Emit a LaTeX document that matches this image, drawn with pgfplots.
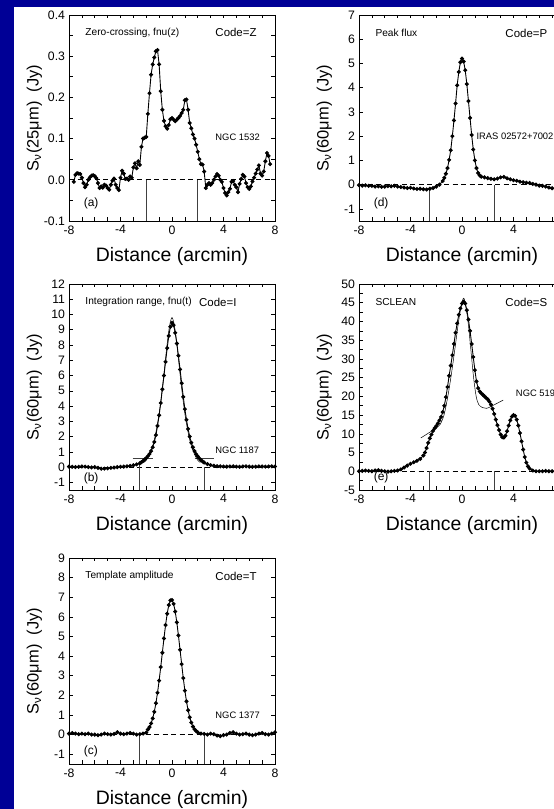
\documentclass[border=0pt]{standalone}
\usepackage{fontspec}
\setmainfont{Liberation Sans}
\usepackage{pgfplots}
\pgfplotsset{compat=1.18}
\definecolor{bgblue}{RGB}{0,0,150}

\pgfplotsset{
 panel/.style={
  scale only axis, width=206bp, height=206bp,
  xmin=-8, xmax=8,
  xtick={-8,-4,0,4,8},
  minor xtick={-7,-6,-5,-3,-2,-1,1,2,3,5,6,7},
  tick align=inside,
  major tick length=3.5bp, minor tick length=3.5bp,
  every tick/.style={black, line width=0.6bp},
  axis line style={black, line width=0.9bp},
  tick label style={font=\fontsize{12.3}{14}\selectfont},
  xticklabel style={yshift=-1bp},
  yticklabel style={xshift=-0.5bp},
  /pgf/number format/assume math mode=true,
  xlabel={Distance (arcmin)},
  every axis x label/.style={at={(axis description cs:0.5,-0.172)}, anchor=center, font=\fontsize{19.5}{22}\selectfont},
  every axis y label/.style={at={(axis description cs:-0.168,0.5)}, anchor=center, rotate=90, font=\fontsize{16.5}{19}\selectfont},
 },
 dat/.style={black, line width=0.9bp, mark=*, mark size=1.55bp, mark options={solid, fill=black}},
 fitl/.style={black, line width=0.5bp, no marks, smooth},
 zl/.style={black, line width=0.7bp, dash pattern=on 5bp off 3.5bp, no marks},
 vl/.style={black!75, line width=0.7bp, no marks},
}
\newcommand{\ttl}{\fontsize{10.2}{12}\selectfont}
\newcommand{\cod}{\fontsize{11.5}{13}\selectfont}
\newcommand{\ngc}{\fontsize{9.4}{11}\selectfont}
\newcommand{\lbl}{\fontsize{12}{14}\selectfont}

\begin{document}
\begin{tikzpicture}[x=1bp,y=1bp]
\path[use as bounding box] (0,0) rectangle (554,809);
\clip (0,0) rectangle (554,809);
\fill[bgblue] (0,0) rectangle (554,809);
\fill[white] (14,0) rectangle (554,802);

% ---------------- (a)
\begin{axis}[panel, at={(69bp,588bp)}, anchor=south west,
  ymin=-0.1, ymax=0.4, ytick={-0.1,0,0.1,0.2,0.3,0.4},
  minor ytick={-0.05,0.05,0.15,0.25,0.35},
  yticklabel style={/pgf/number format/.cd, fixed, fixed zerofill, precision=1},
  ylabel={S\textsubscript{ν}(25μm)\hspace{0.55em}(Jy)}]
\addplot[zl] coordinates {(-8,0) (8,0)};
\addplot[vl] coordinates {(-2,-0.1) (-2,0)};
\addplot[vl] coordinates {(2,-0.1) (2,0)};
\addplot[dat] coordinates {
(-7.625,-0.005) (-7.5,0.012) (-7.375,0.016) (-7.25,0.015) (-7.125,0.014) (-7.0,0.005)
(-6.875,-0.008) (-6.75,-0.018) (-6.625,-0.012) (-6.5,0.0) (-6.375,0.006) (-6.25,0.01)
(-6.125,0.011) (-6.0,0.009) (-5.875,0.004) (-5.75,-0.008) (-5.625,-0.02) (-5.5,-0.016)
(-5.375,-0.019) (-5.25,-0.012) (-5.125,-0.014) (-5.0,-0.02) (-4.875,-0.024) (-4.75,-0.012)
(-4.625,-0.002) (-4.5,0.003) (-4.375,-0.012) (-4.25,-0.02) (-4.125,-0.025) (-4.0,0.005)
(-3.875,0.022) (-3.75,0.015) (-3.625,0.002) (-3.5,0.003) (-3.375,0.0) (-3.25,0.008)
(-3.125,0.005) (-3.0,0.03) (-2.875,0.04) (-2.75,0.028) (-2.625,0.045) (-2.5,0.036)
(-2.375,0.08) (-2.25,0.1) (-2.125,0.102) (-2.0,0.104) (-1.875,0.16) (-1.75,0.21)
(-1.625,0.255) (-1.5,0.28) (-1.375,0.297) (-1.25,0.312) (-1.125,0.315) (-1.0,0.28)
(-0.875,0.215) (-0.75,0.17) (-0.625,0.143) (-0.5,0.13) (-0.375,0.124) (-0.25,0.133)
(-0.125,0.147) (0.0,0.15) (0.125,0.146) (0.25,0.142) (0.375,0.146) (0.5,0.15)
(0.625,0.155) (0.75,0.162) (0.875,0.17) (1.0,0.193) (1.125,0.195) (1.25,0.17)
(1.375,0.138) (1.5,0.125) (1.625,0.11) (1.75,0.1) (1.875,0.085) (2.0,0.068)
(2.125,0.05) (2.25,0.038) (2.375,0.037) (2.5,0.02) (2.625,-0.02) (2.75,-0.012)
(2.875,-0.008) (3.0,-0.012) (3.125,-0.008) (3.25,0.0) (3.375,0.008) (3.5,0.014)
(3.625,0.01) (3.75,0.0) (3.875,-0.005) (4.0,-0.02) (4.125,-0.032) (4.25,-0.038)
(4.375,-0.03) (4.5,-0.022) (4.625,-0.005) (4.75,-0.003) (4.875,-0.012) (5.0,-0.018)
(5.125,-0.03) (5.25,-0.01) (5.375,0.002) (5.5,0.012) (5.625,0.008) (5.75,-0.008)
(5.875,-0.018) (6.0,-0.022) (6.125,-0.016) (6.25,-0.004) (6.375,0.005) (6.5,0.015)
(6.625,0.025) (6.75,0.035) (6.875,0.015) (7.0,0.01) (7.125,0.02) (7.25,0.045)
(7.375,0.065) (7.5,0.058) (7.625,0.038)};
\node[anchor=west, font=\ttl] at (axis description cs:0.063,0.913) {Zero-crossing, fnu(z)};
\node[anchor=west, font=\cod] at (axis description cs:0.694,0.913) {Code=Z};
\node[anchor=west, font=\ngc] at (axis description cs:0.694,0.408) {NGC 1532};
\node[anchor=west, font=\lbl] at (axis description cs:0.055,0.085) {(a)};
\end{axis}

% ---------------- (d)
\begin{axis}[panel, at={(359bp,588bp)}, anchor=south west,
  ymin=-1.5, ymax=7, ytick={-1,0,...,7},
  ylabel={S\textsubscript{ν}(60μm)\hspace{0.55em}(Jy)}]
\addplot[zl] coordinates {(-8,0) (8,0)};
\addplot[vl] coordinates {(-2.5,-1.5) (-2.5,-0.17)};
\addplot[vl] coordinates {(2.5,-1.5) (2.5,0)};
\addplot[dat] coordinates {
(-8,-0.02) (-7.75,-0.04) (-7.5,-0.03) (-7.25,-0.05) (-7,-0.05) (-6.75,-0.08) (-6.5,-0.07)
(-6.25,-0.09) (-6,-0.08) (-5.75,-0.06) (-5.5,-0.07) (-5.25,-0.05) (-5,-0.08) (-4.75,-0.1)
(-4.5,-0.12) (-4.25,-0.14) (-4,-0.13) (-3.75,-0.16) (-3.5,-0.18) (-3.25,-0.17) (-3,-0.19)
(-2.75,-0.2) (-2.5,-0.17) (-2.25,-0.14) (-2,-0.08) (-1.75,0.0) (-1.5,0.15)
(-1.375,0.28) (-1.25,0.45) (-1.125,0.68) (-1.0,1.02) (-0.875,1.42) (-0.75,2.0)
(-0.625,2.65) (-0.5,3.35) (-0.375,4.1) (-0.25,4.65) (-0.125,5.05) (0,5.2)
(0.125,5.08) (0.25,4.72) (0.375,4.15) (0.5,3.45) (0.625,2.75) (0.75,2.05)
(0.875,1.45) (1.0,1.0) (1.125,0.68) (1.25,0.48) (1.375,0.38) (1.5,0.33)
(1.75,0.3) (2.0,0.27) (2.25,0.24) (2.5,0.22) (2.75,0.25) (3.0,0.3) (3.25,0.32)
(3.5,0.26) (3.75,0.22) (4.0,0.18) (4.25,0.16) (4.5,0.12) (4.75,0.1) (5.0,0.08)
(5.25,0.07) (5.5,0.03) (5.75,0.0) (6.0,-0.04) (6.25,-0.05) (6.5,-0.08) (6.75,-0.12)
(7.0,-0.15) (7.25,-0.16) (7.5,-0.14) (7.75,-0.12) (8,-0.1)};
\node[anchor=west, font=\ttl] at (axis description cs:0.063,0.913) {Peak flux};
\node[anchor=west, font=\cod] at (axis description cs:0.694,0.913) {Code=P};
\node[anchor=west, font=\ngc, inner sep=1bp] at (axis description cs:0.565,0.41) {IRAS 02572+7002};
\node[anchor=west, font=\lbl] at (axis description cs:0.055,0.085) {(d)};
\end{axis}

% ---------------- (b)
\begin{axis}[panel, at={(69bp,319bp)}, anchor=south west,
  ymin=-1.5, ymax=12, ytick={-1,0,...,12},
  ylabel={S\textsubscript{ν}(60μm)\hspace{0.55em}(Jy)}]
\addplot[zl] coordinates {(-8,0) (8,0)};
\addplot[vl] coordinates {(-2.5,-1.5) (-2.5,0.25)};
\addplot[vl] coordinates {(2.5,-1.5) (2.5,0)};
\addplot[vl] coordinates {(-3.05,0.55) (-1.5,0.55)};
\addplot[vl] coordinates {(1.75,0.55) (3.3,0.55)};
\addplot[fitl] coordinates {(-2.2,0.3) (-2.0,0.45) (-1.8,0.75) (-1.6,1.15) (-1.4,1.7)
(-1.2,2.5) (-1.0,3.5) (-0.8,4.8) (-0.6,6.3) (-0.4,7.9) (-0.2,9.2) (0,9.8) (0.2,9.2)
(0.4,7.9) (0.6,6.3) (0.8,4.8) (1.0,3.5) (1.2,2.5) (1.4,1.7) (1.6,1.15) (1.8,0.75)
(2.0,0.45) (2.2,0.3)};
\addplot[dat] coordinates {
(-8,0.03) (-7.75,0.02) (-7.5,0.0) (-7.25,0.02) (-7,0.04) (-6.75,0.03) (-6.5,0.0)
(-6.25,-0.02) (-6,0.0) (-5.75,-0.05) (-5.5,-0.1) (-5.25,-0.1) (-5,-0.08) (-4.75,-0.05)
(-4.5,-0.03) (-4.25,0.0) (-4,0.02) (-3.75,0.03) (-3.5,0.05) (-3.25,0.08) (-3,0.12)
(-2.75,0.18) (-2.5,0.25) (-2.375,0.32) (-2.25,0.4) (-2.125,0.5) (-2.0,0.6)
(-1.875,0.72) (-1.75,0.86) (-1.625,1.05) (-1.5,1.3) (-1.375,1.65) (-1.25,2.1)
(-1.125,2.7) (-1.0,3.4) (-0.875,4.2) (-0.75,5.1) (-0.625,6.0) (-0.5,6.9) (-0.375,7.8)
(-0.25,8.6) (-0.125,9.2) (0,9.45) (0.125,9.3) (0.25,8.8) (0.375,8.1) (0.5,7.3)
(0.625,6.4) (0.75,5.5) (0.875,4.6) (1.0,3.8) (1.125,3.1) (1.25,2.5) (1.375,2.0)
(1.5,1.6) (1.625,1.3) (1.75,1.05) (1.875,0.85) (2.0,0.7) (2.125,0.57) (2.25,0.46)
(2.375,0.37) (2.5,0.3) (2.75,0.2) (3.0,0.13) (3.25,0.09) (3.5,0.06) (3.75,0.05)
(4,0.04) (4.25,0.03) (4.5,0.04) (4.75,0.05) (5,0.03) (5.25,0.02) (5.5,0.04) (5.75,0.05)
(6,0.03) (6.25,0.02) (6.5,0.03) (6.75,0.05) (7,0.04) (7.25,0.03) (7.5,0.04) (7.75,0.05)
(8,0.04)};
\node[anchor=west, font=\ttl] at (axis description cs:0.063,0.913) {Integration range, fnu(t)};
\node[anchor=west, font=\cod] at (axis description cs:0.615,0.913) {Code=I};
\node[anchor=west, font=\ngc] at (axis description cs:0.694,0.195) {NGC 1187};
\node[anchor=west, font=\lbl] at (axis description cs:0.055,0.055) {(b)};
\end{axis}

% ---------------- (e)
\begin{axis}[panel, at={(359bp,319bp)}, anchor=south west,
  ymin=-5, ymax=50, ytick={-5,0,...,50},
  minor ytick={-2.5,2.5,...,47.5},
  ylabel={S\textsubscript{ν}(60μm)\hspace{0.55em}(Jy)}]
\addplot[zl] coordinates {(-8,0) (8,0)};
\addplot[vl] coordinates {(-2.5,-5) (-2.5,0)};
\addplot[vl] coordinates {(2.5,-5) (2.5,0)};
\addplot[fitl] coordinates {(-3.2,8.9) (-2.6,10.2) (-2.0,11.5) (-1.7,12.5) (-1.4,15)
(-1.1,20) (-0.8,26.5) (-0.5,34) (-0.2,41.5) (0.1,46.2) (0.3,44) (0.5,39) (0.7,32)
(0.9,25) (1.1,20) (1.3,17.8) (1.6,17) (1.9,16.8) (2.2,17.2) (2.7,18.1) (3.2,19)};
\addplot[dat] coordinates {
(-8,0.0) (-7.75,0.1) (-7.5,0.2) (-7.25,0.1) (-7,0.0) (-6.75,0.2) (-6.5,0.3) (-6.25,0.1)
(-6,0.0) (-5.75,-0.1) (-5.5,0.0) (-5.25,0.1) (-5,0.2) (-4.75,0.5) (-4.5,1.0) (-4.25,1.5)
(-4,2.0) (-3.75,2.4) (-3.5,2.8) (-3.25,3.3) (-3.0,4.2) (-2.875,5.0) (-2.75,6.2)
(-2.625,7.6) (-2.5,8.8) (-2.375,9.8) (-2.25,10.8) (-2.125,11.5) (-2.0,12.1)
(-1.875,12.8) (-1.75,13.6) (-1.625,14.5) (-1.5,15.8) (-1.375,17.5) (-1.25,19.8)
(-1.125,22.5) (-1.0,25.5) (-0.875,28.2) (-0.75,31.0) (-0.625,34.0) (-0.5,37.0)
(-0.375,39.5) (-0.25,41.8) (-0.125,43.5) (0,44.8) (0.125,45.3) (0.25,44.8)
(0.375,43.0) (0.5,40.5) (0.625,37.5) (0.75,34.0) (0.875,30.5) (1.0,27.0)
(1.125,24.0) (1.25,22.2) (1.375,21.3) (1.5,20.8) (1.625,20.4) (1.75,20.0)
(1.875,19.6) (2.0,19.2) (2.125,18.6) (2.25,17.8) (2.375,16.7) (2.5,15.3)
(2.625,13.8) (2.75,12.3) (2.875,11.0) (3.0,9.8) (3.125,9.1) (3.25,9.0) (3.375,9.5)
(3.5,10.7) (3.625,12.2) (3.75,13.6) (3.875,14.6) (4.0,15.0) (4.125,14.8) (4.25,13.8)
(4.375,12.2) (4.5,10.2) (4.625,8.0) (4.75,5.8) (4.875,3.8) (5.0,2.3) (5.125,1.3)
(5.25,0.7) (5.5,0.2) (5.75,0.0) (6,0.0) (6.25,0.0) (6.5,0.1) (6.75,0.0) (7,0.0)
(7.25,0.0) (7.5,0.0) (7.75,0.0) (8,0.0)};
\node[anchor=west, font=\ttl] at (axis description cs:0.063,0.913) {SCLEAN};
\node[anchor=west, font=\cod] at (axis description cs:0.694,0.913) {Code=S};
\node[anchor=west, font=\ngc] at (axis description cs:0.745,0.47) {NGC 5194};
\node[anchor=west, font=\lbl] at (axis description cs:0.055,0.06) {(e)};
\end{axis}

% ---------------- (c)
\begin{axis}[panel, at={(69bp,45bp)}, anchor=south west,
  ymin=-1.5, ymax=9, ytick={-1,0,...,9},
  ylabel={S\textsubscript{ν}(60μm)\hspace{0.55em}(Jy)}]
\addplot[zl] coordinates {(-8,0) (8,0)};
\addplot[vl] coordinates {(-2.5,-1.5) (-2.5,0.02)};
\addplot[vl] coordinates {(2.5,-1.5) (2.5,0.03)};
\addplot[dat] coordinates {
(-8,0.05) (-7.75,0.08) (-7.5,0.05) (-7.25,0.02) (-7,0.05) (-6.75,0.02) (-6.5,0.05)
(-6.25,0.0) (-6,0.0) (-5.75,-0.03) (-5.5,0.0) (-5.25,0.05) (-5,0.02) (-4.75,0.0)
(-4.5,0.03) (-4.25,0.12) (-4,0.05) (-3.75,0.02) (-3.5,0.05) (-3.25,0.08) (-3,0.05)
(-2.75,0.0) (-2.5,0.02) (-2.25,0.05) (-2.0,0.1) (-1.875,0.26) (-1.75,0.38)
(-1.625,0.57) (-1.5,0.82) (-1.375,1.16) (-1.25,1.6) (-1.125,2.13) (-1.0,2.75)
(-0.875,3.44) (-0.75,4.17) (-0.625,4.9) (-0.5,5.58) (-0.375,6.16) (-0.25,6.6)
(-0.125,6.84) (0,6.86) (0.125,6.66) (0.25,6.27) (0.375,5.72) (0.5,5.05) (0.625,4.32)
(0.75,3.59) (0.875,2.88) (1.0,2.24) (1.125,1.69) (1.25,1.24) (1.375,0.88)
(1.5,0.61) (1.625,0.41) (1.75,0.27) (1.875,0.18) (2.0,0.11) (2.25,0.05) (2.5,0.03)
(2.75,0.0) (3.0,0.05) (3.25,0.02) (3.5,-0.05) (3.75,-0.08) (4.0,-0.03) (4.25,0.0)
(4.5,0.08) (4.75,0.12) (5.0,0.05) (5.25,0.0) (5.5,0.02) (5.75,0.05) (6,0.0)
(6.25,-0.03) (6.5,0.0) (6.75,0.05) (7,0.08) (7.25,0.02) (7.5,0.0) (7.75,0.05) (8,0.12)};
\node[anchor=west, font=\ttl] at (axis description cs:0.063,0.913) {Template amplitude};
\node[anchor=west, font=\cod] at (axis description cs:0.694,0.913) {Code=T};
\node[anchor=west, font=\ngc] at (axis description cs:0.694,0.238) {NGC 1377};
\node[anchor=west, font=\lbl] at (axis description cs:0.055,0.06) {(c)};
\end{axis}
\end{tikzpicture}
\end{document}
